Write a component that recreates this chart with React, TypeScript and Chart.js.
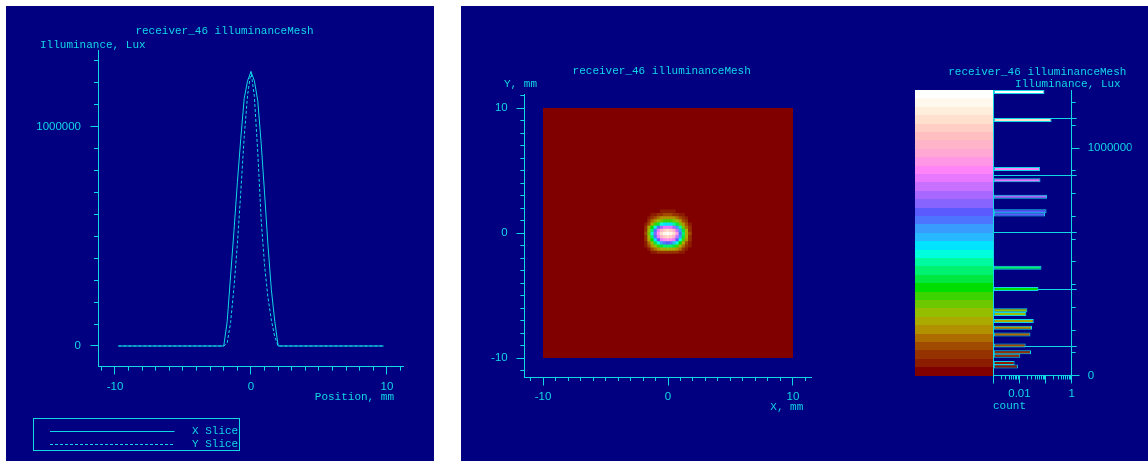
import React, { useEffect, useRef } from "react";
import { Chart, registerables } from "chart.js";

Chart.register(...registerables);

// ---------------- data ----------------
const TITLE = "receiver_46 illuminanceMesh";
const VALUE_TITLE = "Illuminance, Lux";
const POSITION_TITLE = "Position, mm";
const MESH_X_TITLE = "X, mm";
const MESH_Y_TITLE = "Y, mm";
const COUNT_TITLE = "count";

// slice sample positions (mm) and illuminance (lux)
const SLICE_POS = [-9.75, -2, -1.75, -1.5, -1.25, -1, -0.75, -0.5, -0.25, 0, 0.25, 0.5, 0.75, 1, 1.25, 1.5, 1.75, 2, 9.75];
const X_SLICE = [0, 0, 111000, 320000, 525000, 746000, 946000, 1128000, 1209000, 1251000, 1209000, 1118000, 924000, 697000, 460000, 256000, 113000, 0, 0];
const Y_SLICE = [0, 0, 14000, 106000, 267000, 464000, 702000, 951000, 1144000, 1251000, 1138000, 882000, 577000, 366000, 221000, 118000, 42000, 0, 0];
const SLICE_NAMES = ["X Slice", "Y Slice"];

const LINE_X_RANGE = [-11.25, 11.18];
const LINE_Y_RANGE = [-94400, 1349700];
const LINE_X_LABELS = [-10, 0, 10];
const LINE_Y_LABELS = [0, 1000000];

// mesh
const MESH_RANGE = [-10, 10];
const CELL_MM = 0.25;
const MESH_X_AXIS = [-11.5, 11.5];
const MESH_Y_AXIS = [-11.5, 11.1];
const MESH_LABELS = [-10, 0, 10];

// colour scale
const COLOR_MAX = 1256000;
const PALETTE = [
  "#800000", "#8c1c00", "#963200", "#a04b00", "#ac6c00", "#b29100", "#aaaa00", "#96be00",
  "#6ec800", "#3cd400", "#00de00", "#00e840", "#00f270", "#00faa0", "#00ffdc", "#00e4ff",
  "#28b8ff", "#389cff", "#4c74ff", "#5a5aff", "#8864ff", "#a868ff", "#c870ff", "#e878ff",
  "#ff84f8", "#ff96e6", "#ffa8d4", "#ffb4ca", "#ffbec0", "#ffcec4", "#ffe0ce", "#ffeedc",
  "#fff8ec", "#ffffff",
];

// histogram of mesh values
const HIST_LUX = [1247600, 1124500, 909000, 859000, 786000, 723000, 708000, 473600, 381000, 287600, 270400, 239700, 209800, 180000, 131500, 102000, 86600, 54500, 39600];
const HIST_COUNT = [0.091, 0.17, 0.0617, 0.0639, 0.1148, 0.1088, 0.0961, 0.0698, 0.0535, 0.0201, 0.0184, 0.0353, 0.0303, 0.0263, 0.0173, 0.0277, 0.0108, 0.00653, 0.00875];
const COUNT_RANGE = [0.001, 1];
const COUNT_LABELS = [0.01, 1];
const COUNT_DECADES = [0.001, 0.01, 0.1, 1];
const HIST_Y_LABELS = [0, 1000000];
const LEVEL_FRACTIONS = [0.1, 0.3, 0.5, 0.7, 0.9];

// ---------------- style ----------------
const NAVY = "#000080";
const CYAN = "#12d6e6";
const MONO = "11px 'Liberation Mono', 'DejaVu Sans Mono', monospace";
const TICK_FONT = { family: "'Liberation Sans', Arial, sans-serif", size: 11.5 };
const COLORBAR_W = 78;

const colorFor = (v?: number) => {
  if (v == null || isNaN(v)) return PALETTE[0];
  const i = Math.min(PALETTE.length - 1, Math.max(0, Math.floor((v / COLOR_MAX) * PALETTE.length)));
  return PALETTE[i];
};

const near = (list: number[], v: number) => list.find((m) => Math.abs(m - v) <= Math.abs(m) * 1e-6 + 1e-9);
// evenly stepped ticks inside the scale range
const stepTicks = (step: number) => (scale: any) => {
  const a = Math.ceil(scale.min / step - 1e-9);
  const b = Math.floor(scale.max / step + 1e-9);
  const ticks: { value: number }[] = [];
  for (let k = a; k <= b; k++) ticks.push({ value: k * step });
  scale.ticks = ticks;
};
const logTicks = (scale: any) => {
  scale.ticks = scale.ticks.filter((t: any) => {
    const e = Math.floor(Math.log10(t.value) + 1e-9);
    const m = t.value / Math.pow(10, e);
    return Math.abs(m - Math.round(m)) < 1e-6;
  });
};

const alignPx = (p: number) => Math.round(p - 0.5) + 0.5;

const axisStyle = (padding: number) => ({
  grid: { display: true, drawOnChartArea: false, drawTicks: true, tickLength: 4, color: CYAN, lineWidth: 1, offset: false },
  border: { display: true, color: CYAN, width: 1 },
  ticks: { color: CYAN, font: TICK_FONT, padding, autoSkip: false, maxRotation: 0, minRotation: 0 },
});
const labelCb = (list: number[]) => (v: number) => {
  const m = near(list, v);
  return m === undefined ? "" : String(m);
};

// ---------------- plugins ----------------
type TextItem = { text: string; x: number; y: number; align?: CanvasTextAlign };
const textPlugin = (items: TextItem[]) => ({
  id: "freeTexts",
  afterDraw(chart: any) {
    const { ctx } = chart;
    ctx.save();
    ctx.font = MONO;
    ctx.fillStyle = CYAN;
    ctx.textBaseline = "middle";
    for (const t of items) {
      ctx.textAlign = t.align || "left";
      ctx.fillText(t.text, t.x, t.y);
    }
    ctx.restore();
  },
});

const majorTickPlugin = (specs: { axis: string; values: number[] }[], len = 8) => ({
  id: "majorTicks",
  afterDraw(chart: any) {
    const { ctx } = chart;
    ctx.save();
    ctx.strokeStyle = CYAN;
    ctx.lineWidth = 1;
    ctx.beginPath();
    for (const s of specs) {
      const sc = chart.scales[s.axis];
      for (const v of s.values) {
        const p = alignPx(sc.getPixelForValue(v));
        if (sc.position === "bottom") {
          const y0 = alignPx(sc.top);
          ctx.moveTo(p, y0);
          ctx.lineTo(p, y0 + len);
        } else if (sc.position === "left") {
          const x0 = alignPx(sc.right);
          ctx.moveTo(x0, p);
          ctx.lineTo(x0 - len, p);
        } else {
          const x0 = alignPx(sc.left);
          ctx.moveTo(x0, p);
          ctx.lineTo(x0 + len, p);
        }
      }
    }
    ctx.stroke();
    ctx.restore();
  },
});

const boxLegendPlugin = (box: { x: number; y: number; w: number; h: number; rowY: number[]; lineX0: number; lineX1: number; textX: number }) => ({
  id: "boxLegend",
  afterDraw(chart: any) {
    const { ctx } = chart;
    ctx.save();
    ctx.strokeStyle = CYAN;
    ctx.lineWidth = 1;
    ctx.strokeRect(alignPx(box.x), alignPx(box.y), Math.round(box.w), Math.round(box.h));
    chart.data.datasets.forEach((ds: any, i: number) => {
      const y = alignPx(box.rowY[i]);
      ctx.setLineDash(ds.borderDash || []);
      ctx.strokeStyle = ds.borderColor;
      ctx.lineWidth = ds.borderWidth;
      ctx.beginPath();
      ctx.moveTo(box.lineX0, y);
      ctx.lineTo(box.lineX1, y);
      ctx.stroke();
      ctx.setLineDash([]);
      ctx.font = MONO;
      ctx.fillStyle = CYAN;
      ctx.textBaseline = "middle";
      ctx.textAlign = "left";
      ctx.fillText(ds.label, box.textX, box.rowY[i]);
    });
    ctx.restore();
  },
});

const meshBackgroundPlugin = {
  id: "meshBackground",
  beforeDatasetsDraw(chart: any) {
    const { ctx } = chart;
    const x = chart.scales.x;
    const y = chart.scales.y;
    const x0 = Math.round(x.getPixelForValue(MESH_RANGE[0]));
    const x1 = Math.round(x.getPixelForValue(MESH_RANGE[1]));
    const y0 = Math.round(y.getPixelForValue(MESH_RANGE[1]));
    const y1 = Math.round(y.getPixelForValue(MESH_RANGE[0]));
    ctx.save();
    ctx.fillStyle = PALETTE[0];
    ctx.fillRect(x0, y0, x1 - x0, y1 - y0);
    ctx.restore();
  },
};

const colorBarPlugin = {
  id: "colorBar",
  beforeDraw(chart: any) {
    const { ctx, chartArea } = chart;
    const y = chart.scales.y;
    const n = PALETTE.length;
    ctx.save();
    PALETTE.forEach((c, i) => {
      const yb = Math.round(y.getPixelForValue((i * COLOR_MAX) / n));
      const yt = Math.round(y.getPixelForValue(((i + 1) * COLOR_MAX) / n));
      ctx.fillStyle = c;
      ctx.fillRect(Math.round(chartArea.left - COLORBAR_W), yt, COLORBAR_W, yb - yt);
    });
    ctx.restore();
  },
  beforeDatasetsDraw(chart: any) {
    const { ctx, chartArea } = chart;
    const y = chart.scales.y;
    ctx.save();
    ctx.strokeStyle = CYAN;
    ctx.lineWidth = 1;
    ctx.beginPath();
    LEVEL_FRACTIONS.forEach((f) => {
      const p = alignPx(y.getPixelForValue(f * COLOR_MAX));
      ctx.moveTo(chartArea.left, p);
      ctx.lineTo(chartArea.right + 5, p);
    });
    ctx.stroke();
    ctx.restore();
  },
};

// ---------------- configs ----------------
const commonOptions = {
  responsive: false,
  maintainAspectRatio: false,
  animation: false as const,
  devicePixelRatio: 1,
  events: [] as any[],
};
const noPlugins = { legend: { display: false }, title: { display: false }, tooltip: { enabled: false } };

function sliceConfig(): any {
  const sx = axisStyle(9);
  const sy = axisStyle(13);
  return {
    type: "line",
    data: {
      datasets: [
        {
          label: SLICE_NAMES[0],
          data: SLICE_POS.map((x, i) => ({ x, y: X_SLICE[i] })),
          borderColor: CYAN,
          borderWidth: 1,
          pointRadius: 0,
          tension: 0,
          fill: false,
        },
        {
          label: SLICE_NAMES[1],
          data: SLICE_POS.map((x, i) => ({ x, y: Y_SLICE[i] })),
          borderColor: CYAN,
          borderWidth: 1,
          borderDash: [3, 2],
          pointRadius: 0,
          tension: 0,
          fill: false,
        },
      ],
    },
    options: {
      ...commonOptions,
      layout: { padding: { left: 12, right: 31, top: 44, bottom: 64.3 } },
      plugins: noPlugins,
      scales: {
        x: {
          type: "linear",
          min: LINE_X_RANGE[0],
          max: LINE_X_RANGE[1],
          ...sx,
          ticks: { ...sx.ticks, callback: labelCb(LINE_X_LABELS) },
          afterBuildTicks: stepTicks(1),
          afterFit: (s: any) => { s.height = 30; },
        },
        y: {
          type: "linear",
          min: LINE_Y_RANGE[0],
          max: LINE_Y_RANGE[1],
          ...sy,
          ticks: { ...sy.ticks, callback: labelCb(LINE_Y_LABELS) },
          afterBuildTicks: stepTicks(100000),
          afterFit: (s: any) => { s.width = 80; },
        },
      },
    },
    plugins: [
      majorTickPlugin([{ axis: "x", values: LINE_X_LABELS }, { axis: "y", values: LINE_Y_LABELS }]),
      textPlugin([
        { text: TITLE, x: 218.5, y: 25.3, align: "center" },
        { text: VALUE_TITLE, x: 34, y: 39 },
        { text: POSITION_TITLE, x: 388, y: 391, align: "right" },
      ]),
      boxLegendPlugin({ x: 27.7, y: 412.3, w: 206.3, h: 32.4, rowY: [425, 438], lineX0: 44, lineX1: 168.5, textX: 186 }),
    ],
  };
}

function meshConfig(): any {
  const peak = X_SLICE[SLICE_POS.indexOf(0)];
  const cells: { x: number; y: number; v: number }[] = [];
  SLICE_POS.forEach((x, i) => {
    SLICE_POS.forEach((y, j) => {
      const v = (X_SLICE[i] * Y_SLICE[j]) / peak;
      if (v > 0) cells.push({ x, y, v });
    });
  });
  const sx = axisStyle(8.8);
  const sy = axisStyle(12.6);
  const cellRadius = (chart: any) => {
    const x = chart.scales.x;
    const half = Math.abs(x.getPixelForValue(CELL_MM) - x.getPixelForValue(0)) / 2 + 0.3;
    return half / Math.SQRT1_2;
  };
  return {
    type: "scatter",
    data: {
      datasets: [
        {
          label: "illuminanceMesh",
          data: cells,
          pointStyle: "rect",
          pointRadius: (ctx: any) => cellRadius(ctx.chart),
          pointHoverRadius: (ctx: any) => cellRadius(ctx.chart),
          pointBackgroundColor: (ctx: any) => colorFor(ctx.raw ? ctx.raw.v : undefined),
          pointBorderWidth: 0,
          borderWidth: 0,
        },
      ],
    },
    options: {
      ...commonOptions,
      layout: { padding: { left: 3.3, right: 88.3, top: 88.3, bottom: 54 } },
      plugins: noPlugins,
      scales: {
        x: {
          type: "linear",
          min: MESH_X_AXIS[0],
          max: MESH_X_AXIS[1],
          ...sx,
          ticks: { ...sx.ticks, callback: labelCb(MESH_LABELS) },
          afterBuildTicks: stepTicks(1),
          afterFit: (s: any) => { s.height = 30; },
        },
        y: {
          type: "linear",
          min: MESH_Y_AXIS[0],
          max: MESH_Y_AXIS[1],
          ...sy,
          ticks: { ...sy.ticks, callback: labelCb(MESH_LABELS) },
          afterBuildTicks: stepTicks(1),
          afterFit: (s: any) => { s.width = 60; },
        },
      },
    },
    plugins: [
      meshBackgroundPlugin,
      majorTickPlugin([{ axis: "x", values: MESH_LABELS }, { axis: "y", values: MESH_LABELS }]),
      textPlugin([
        { text: TITLE, x: 200.7, y: 64.7, align: "center" },
        { text: MESH_Y_TITLE, x: 43, y: 78 },
        { text: MESH_X_TITLE, x: 342.3, y: 400.7, align: "right" },
      ]),
    ],
  };
}

function histConfig(): any {
  const sx = axisStyle(7.6);
  const sy = axisStyle(12);
  return {
    type: "bar",
    data: {
      datasets: [
        {
          label: COUNT_TITLE,
          data: HIST_LUX.map((y, i) => ({ x: HIST_COUNT[i], y })),
          base: COUNT_RANGE[0],
          barThickness: 4,
          backgroundColor: (ctx: any) => colorFor(ctx.raw ? ctx.raw.y : undefined),
          borderColor: CYAN,
          borderWidth: 1,
          borderSkipped: false,
          inflateAmount: 0,
        },
      ],
    },
    options: {
      ...commonOptions,
      indexAxis: "y",
      layout: { padding: { left: 93.3, right: 16.3, top: 84, bottom: 45.5 } },
      plugins: noPlugins,
      scales: {
        x: {
          type: "logarithmic",
          position: "bottom",
          min: COUNT_RANGE[0],
          max: COUNT_RANGE[1],
          beginAtZero: false,
          ...sx,
          ticks: { ...sx.ticks, callback: labelCb(COUNT_LABELS) },
          afterBuildTicks: logTicks,
          afterFit: (s: any) => { s.height = 40; },
        },
        y: {
          type: "linear",
          position: "right",
          min: 0,
          max: COLOR_MAX,
          offset: false,
          ...sy,
          ticks: { ...sy.ticks, callback: labelCb(HIST_Y_LABELS) },
          afterBuildTicks: stepTicks(100000),
          afterFit: (s: any) => { s.width = 60; },
        },
        yl: {
          type: "linear",
          position: "left",
          min: 0,
          max: COLOR_MAX,
          offset: false,
          grid: { display: false },
          border: { display: true, color: CYAN, width: 1 },
          ticks: { display: false },
          afterFit: (s: any) => { s.width = 0; },
        },
      },
    },
    plugins: [
      colorBarPlugin,
      majorTickPlugin([{ axis: "x", values: COUNT_DECADES }, { axis: "y", values: HIST_Y_LABELS }]),
      textPlugin([
        { text: TITLE, x: 137.3, y: 65.7, align: "center" },
        { text: VALUE_TITLE, x: 220.7, y: 78.3, align: "right" },
        { text: COUNT_TITLE, x: 93, y: 399.7 },
      ]),
    ],
  };
}

// ---------------- components ----------------
function ChartCanvas({ width, height, left, build }: { width: number; height: number; left: number; build: () => any }) {
  const ref = useRef<HTMLCanvasElement>(null);
  useEffect(() => {
    const chart = new Chart(ref.current as HTMLCanvasElement, build());
    return () => chart.destroy();
  }, []);
  return (
    <canvas
      ref={ref}
      width={width}
      height={height}
      style={{ position: "absolute", left, top: 0, width, height, display: "block" }}
    />
  );
}

export default function App() {
  return (
    <div style={{ position: "fixed", left: 0, top: 0, width: 1148, height: 462, background: "#ffffff", overflow: "hidden" }}>
      <div style={{ position: "absolute", left: 6, top: 6, width: 428, height: 455, background: NAVY }}>
        <ChartCanvas width={428} height={455} left={0} build={sliceConfig} />
      </div>
      <div style={{ position: "absolute", left: 461, top: 6, width: 687, height: 455, background: NAVY }}>
        <ChartCanvas width={439} height={455} left={0} build={meshConfig} />
        <ChartCanvas width={248} height={455} left={439} build={histConfig} />
      </div>
    </div>
  );
}
